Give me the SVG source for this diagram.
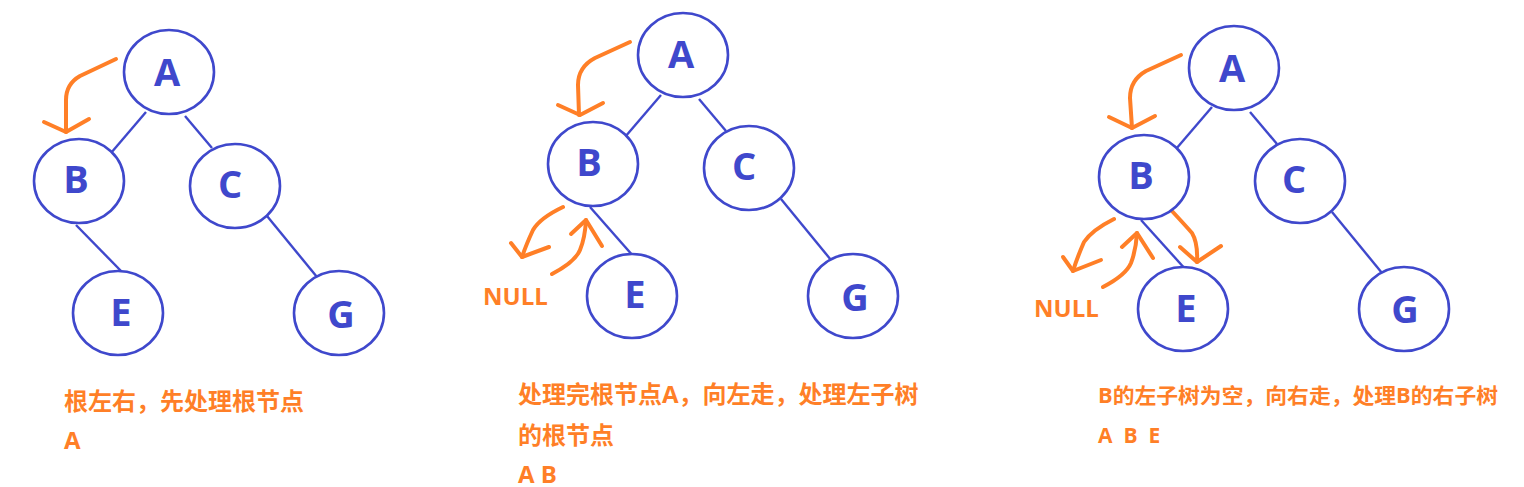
<svg xmlns="http://www.w3.org/2000/svg" width="1524" height="487" viewBox="0 0 1524 487">
<style>
.node ellipse{fill:#fff;stroke:#3f48cc;stroke-width:2.6}
.node text{font-family:"Open Sans","Noto Sans CJK SC",sans-serif;font-weight:bold;font-size:38px;fill:#3f48cc;text-anchor:middle}
.edge{stroke:#3f48cc;stroke-width:2.4;fill:none}
.arr{stroke:#ff7f27;stroke-width:4;fill:none;stroke-linecap:round;stroke-linejoin:round}
.lbl{font-family:"Open Sans","Noto Sans CJK SC",sans-serif;font-weight:bold;font-size:24px;fill:#ff7f27}
.null{font-family:"Open Sans","Noto Sans CJK SC",sans-serif;font-weight:bold;font-size:24px;fill:#ff7f27}
</style>
<rect width="1524" height="487" fill="#fff"/>
<g id="connectors">
<line class="edge" x1="146" y1="112" x2="111" y2="153"/>
<line class="edge" x1="185" y1="116" x2="212" y2="148"/>
<line class="edge" x1="76" y1="225" x2="123" y2="273"/>
<line class="edge" x1="267" y1="216" x2="317" y2="277"/>
<line class="edge" x1="661" y1="95" x2="625" y2="137"/>
<line class="edge" x1="699" y1="99" x2="726" y2="131"/>
<line class="edge" x1="590" y1="207" x2="634" y2="257"/>
<line class="edge" x1="781" y1="199" x2="831" y2="260"/>
<line class="edge" x1="1212" y1="107" x2="1176" y2="149"/>
<line class="edge" x1="1250" y1="112" x2="1277" y2="144"/>
<line class="edge" x1="1141" y1="220" x2="1187" y2="271"/>
<line class="edge" x1="1332" y1="212" x2="1382" y2="273"/>
</g>
<g id="arrows">
<path class="arr" d="M116,59 L80,76 Q66,84 66,100 L66,132"/>
<polyline class="arr" points="44,122 66,132 89,119"/>
<path class="arr" d="M630,42 L595,58 Q578,67 578,85 L579,115"/>
<polyline class="arr" points="558,105 580,115 603,103"/>
<path class="arr" d="M563,207 Q540,218 533,230 Q526,245 522,257"/>
<polyline class="arr" points="511,243 522,257 549,247"/>
<path class="arr" d="M552,274 Q575,262 580,250 Q585,238 586,220"/>
<polyline class="arr" points="571,234 586,220 602,246"/>
<path class="arr" d="M1181,55 L1146,71 Q1130,80 1130,98 L1132,128"/>
<polyline class="arr" points="1109,117 1132,128 1155,116"/>
<path class="arr" d="M1114,219 Q1092,230 1084,242 Q1077,258 1073,271"/>
<polyline class="arr" points="1063,257 1073,271 1101,260"/>
<path class="arr" d="M1103,287 Q1126,275 1131,263 Q1136,250 1137,233"/>
<polyline class="arr" points="1122,247 1137,233 1153,258"/>
<path class="arr" d="M1171,210 Q1185,225 1192,233 Q1198,243 1197,262"/>
<polyline class="arr" points="1180,247 1197,262 1221,246"/>
</g>
<g id="p1-A" class="node"><ellipse cx="169" cy="72" rx="45" ry="42"/><text x="167" y="86">A</text></g>
<g id="p1-B" class="node"><ellipse cx="79" cy="181" rx="45" ry="42"/><text x="76" y="193">B</text></g>
<g id="p1-C" class="node"><ellipse cx="235" cy="186" rx="45" ry="42"/><text x="230" y="198">C</text></g>
<g id="p1-E" class="node"><ellipse cx="118" cy="313" rx="45" ry="42"/><text x="121" y="326">E</text></g>
<g id="p1-G" class="node"><ellipse cx="339" cy="313" rx="45" ry="42"/><text x="341" y="328">G</text></g>
<g id="p2-A" class="node"><ellipse cx="683" cy="55" rx="45" ry="42"/><text x="681" y="68">A</text></g>
<g id="p2-B" class="node"><ellipse cx="593" cy="164" rx="45" ry="42"/><text x="589" y="176">B</text></g>
<g id="p2-C" class="node"><ellipse cx="749" cy="168" rx="45" ry="42"/><text x="744" y="180">C</text></g>
<g id="p2-E" class="node"><ellipse cx="632" cy="296" rx="45" ry="42"/><text x="635" y="308">E</text></g>
<g id="p2-G" class="node"><ellipse cx="853" cy="296" rx="45" ry="42"/><text x="855" y="311">G</text></g>
<g id="p3-A" class="node"><ellipse cx="1234" cy="68" rx="45" ry="42"/><text x="1232" y="82">A</text></g>
<g id="p3-B" class="node"><ellipse cx="1144" cy="177" rx="45" ry="42"/><text x="1141" y="189">B</text></g>
<g id="p3-C" class="node"><ellipse cx="1300" cy="181" rx="45" ry="42"/><text x="1294" y="193">C</text></g>
<g id="p3-E" class="node"><ellipse cx="1183" cy="309" rx="45" ry="42"/><text x="1186" y="322">E</text></g>
<g id="p3-G" class="node"><ellipse cx="1404" cy="309" rx="45" ry="42"/><text x="1405" y="323">G</text></g>
<g id="labels">
<text class="null" x="483" y="305">NULL</text>
<text class="null" x="1034" y="317">NULL</text>
<text class="lbl" x="64" y="410">根左右，先处理根节点</text>
<text class="lbl" x="64" y="449">A</text>
<text class="lbl" x="518" y="403">处理完根节点A，向左走，处理左子树</text>
<text class="lbl" x="518" y="444">的根节点</text>
<text class="lbl" x="518" y="483">A B</text>
<text class="lbl" x="1098" y="403" style="font-size:21px" textLength="400" lengthAdjust="spacingAndGlyphs">B的左子树为空，向右走，处理B的右子树</text>
<text class="lbl" x="1098" y="443" style="font-size:21px" xml:space="preserve">A  B  E</text>
</g>
</svg>
